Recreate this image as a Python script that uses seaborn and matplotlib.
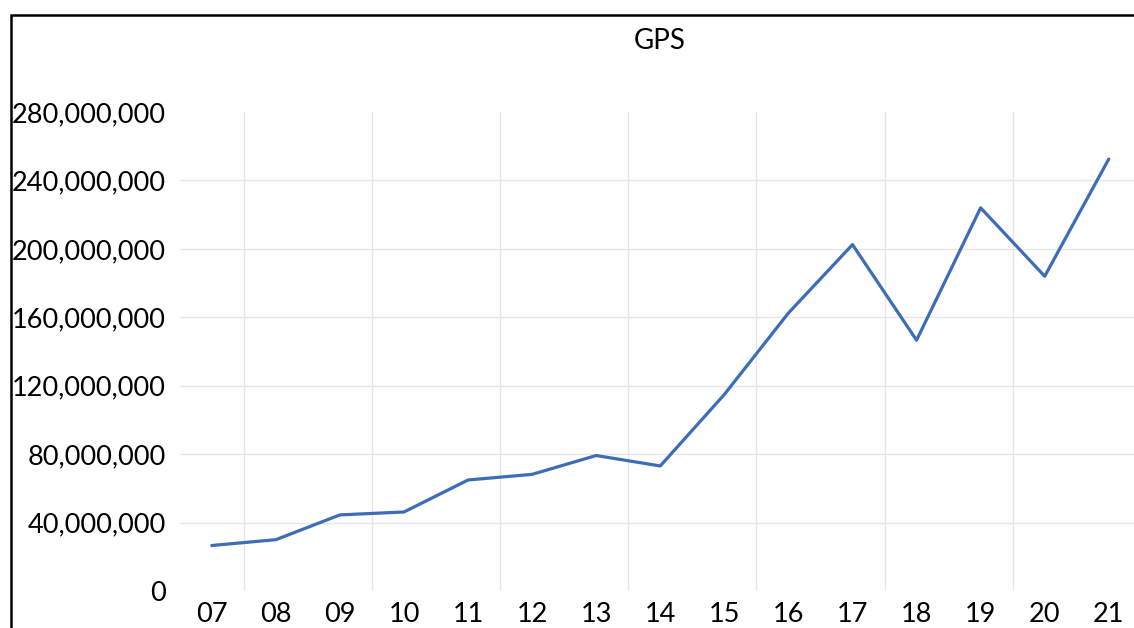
import pandas as pd
import matplotlib
matplotlib.use("Agg")
import matplotlib.pyplot as plt
import matplotlib.ticker as mticker
from matplotlib.patches import Rectangle
import seaborn as sns

years = ["07", "08", "09", "10", "11", "12", "13", "14", "15", "16", "17", "18", "19", "20", "21"]
gps = [26.6e6, 30.0e6, 44.5e6, 46.2e6, 64.9e6, 68.2e6, 79.2e6, 73.1e6,
       114.9e6, 162.5e6, 202.5e6, 146.6e6, 224.0e6, 184.0e6, 252.5e6]
y_ticks = [0, 40e6, 80e6, 120e6, 160e6, 200e6, 240e6, 280e6]

df = pd.DataFrame({"year": years, "gps": gps})

sns.set_theme(style="white")
plt.rcParams["font.family"] = ["Lato", "DejaVu Sans"]

fig = plt.figure(figsize=(11.34, 6.28), dpi=100)
ax = fig.add_axes([0.1585, 0.0589, 0.8475, 0.7627])

sns.lineplot(data=df, x="year", y="gps", sort=False, color="#3D6DB6", linewidth=2.3, ax=ax)

ax.set_xlim(-0.5, len(years) - 0.5)
ax.set_ylim(0, 280e6)
ax.set_yticks(y_ticks)
ax.yaxis.set_major_formatter(mticker.FuncFormatter(lambda v, p: f"{v:,.0f}"))

# horizontal grid only on inner ticks, vertical grid every second category boundary
for v in y_ticks[1:-1]:
    ax.axhline(v, color="#e6e6e6", linewidth=1.0, zorder=0)
for b in range(0, len(years) - 1, 2):
    ax.axvline(b + 0.5, color="#e6e6e6", linewidth=1.0, zorder=0)

for s in ax.spines.values():
    s.set_visible(False)
ax.tick_params(axis="both", length=0, labelsize=19.5, colors="black")
ax.tick_params(axis="y", pad=10)
ax.tick_params(axis="x", pad=8)
ax.set_xlabel("")
ax.set_ylabel("")

fig.text(0.582, 0.935, "GPS", ha="center", va="center", fontsize=20, color="black")

fig.patches.append(Rectangle((11 / 1134, -0.1), 1.2, 1.0 - 15 / 628 + 0.1,
                             transform=fig.transFigure, fill=False,
                             edgecolor="black", linewidth=1.8, zorder=10))

fig.savefig("out.png", dpi=100)
